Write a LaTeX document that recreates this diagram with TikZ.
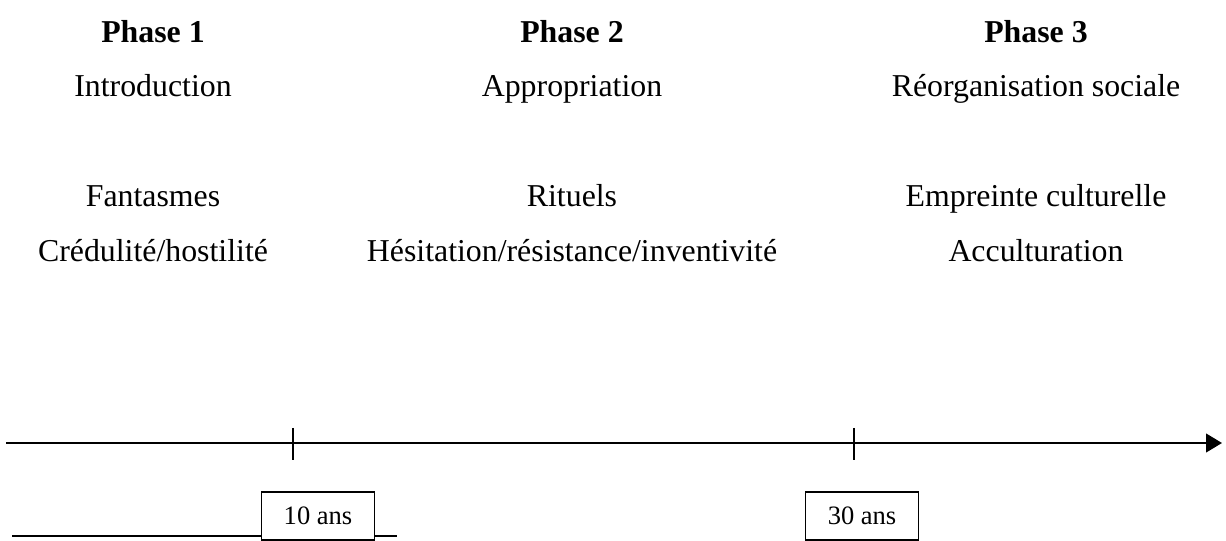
\documentclass[tikz,border=0pt]{standalone}
\usepackage{fontspec}
\setmainfont{Liberation Serif}
\usetikzlibrary{positioning,arrows.meta}

\begin{document}
\begin{tikzpicture}[
  x=0.377pt, y=-0.377pt,
  phase/.style={anchor=base, font=\fontsize{12}{14}\selectfont\bfseries, inner sep=0pt},
  label/.style={anchor=base, font=\fontsize{12}{14}\selectfont, inner sep=0pt},
  yearbox/.style={rectangle, draw=black, line width=0.4pt, fill=white, minimum width=113*0.377pt, minimum height=48*0.377pt, font=\fontsize{10}{12}\selectfont},
  axis/.style={-{Triangle[length=6pt, width=7pt]}, line width=0.8pt},
  tick/.style={line width=0.6pt}
]
\useasboundingbox (0,0) rectangle (1226,541);

% --- PHASES ---

% Phase titles and names
\foreach \x/\i/\t in {153/1/Introduction, 572/2/Appropriation, 1036/3/Réorganisation sociale} {
  \node[phase] (phase\i) at (\x, 43) {Phase \i};
  \node[label] (name\i) at (\x, 97) {\t};
}

% Characteristics of each phase
\node[label] (feat1a) at (153, 207) {Fantasmes};
\node[label] (feat1b) at (153, 262) {Crédulité/hostilité};
\node[label] (feat2a) at (572, 207) {Rituels};
\node[label] (feat2b) at (572, 262) {Hésitation/résistance/inventivité};
\node[label] (feat3a) at (1036, 207) {Empreinte culturelle};
\node[label] (feat3b) at (1036, 262) {Acculturation};

% --- TIME AXIS ---

% Axis with arrow
\coordinate (axisstart) at (6, 443);
\coordinate (axisend) at (1222, 443);
\draw[axis] (axisstart) -- (axisend);

% Ticks
\foreach \x/\i in {293/1, 854/2} {
  \coordinate (tick\i) at (\x, 443);
  \draw[tick] (tick\i) ++(0, -15) -- ++(0, 32);
}

% Underline behind first box
\coordinate (linestart) at (12, 536);
\coordinate (lineend) at (397, 536);
\draw[line width=0.8pt] (linestart) -- (lineend);

% Durations
\node[yearbox] (year10) at (318, 516) {10 ans};
\node[yearbox] (year30) at (862, 516) {30 ans};

\end{tikzpicture}
\end{document}
